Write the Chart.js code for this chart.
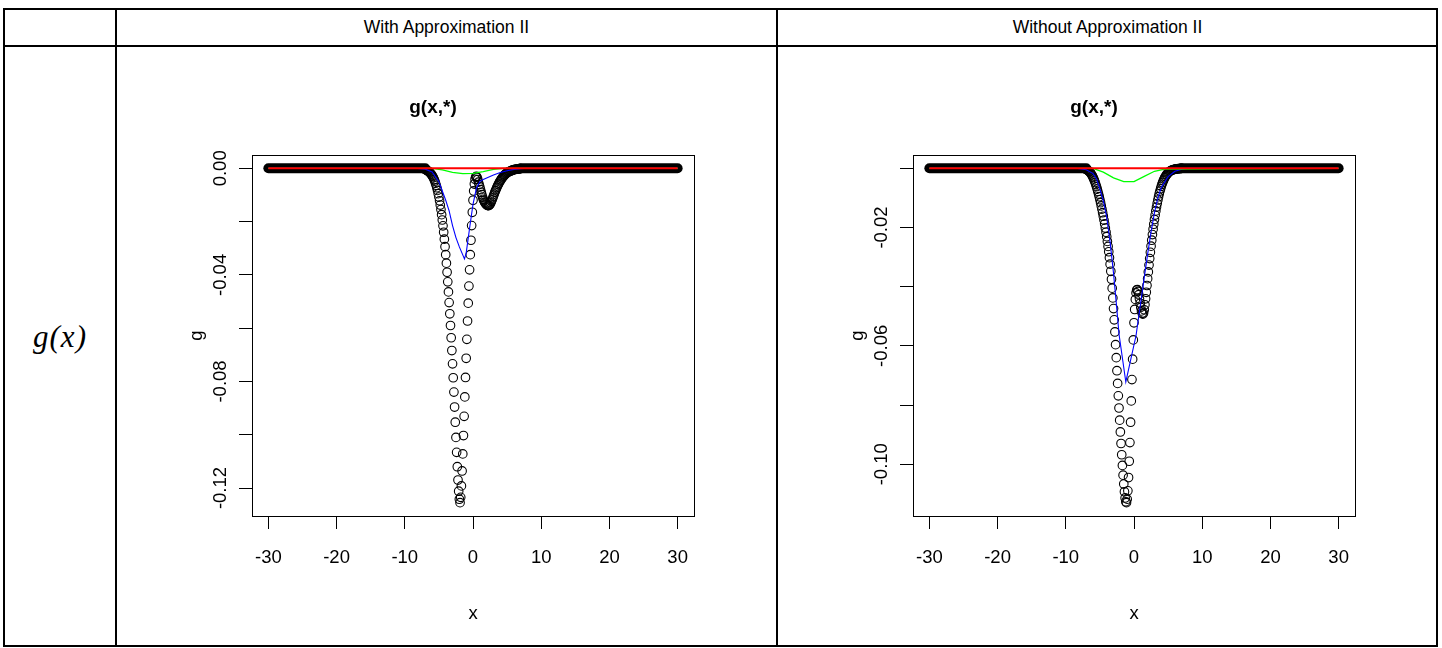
<!DOCTYPE html>
<html lang="en">
<head>
  <meta charset="UTF-8">
  <title>g(x,*) with and without Approximation II</title>
  <script src="https://cdn.jsdelivr.net/npm/chart.js"></script>
  <style>
    body { margin: 0; background: #fff; font-family: "Liberation Sans", Arial, sans-serif; color: #000; }
    #page { position: relative; width: 1442px; height: 648px; }
    .frame { position: absolute; left: 3px; top: 8px; width: 1435px; height: 639px; border: 2px solid #000; box-sizing: border-box; }
    .vline { position: absolute; top: 8px; height: 639px; width: 2px; background: #000; }
    .hline { position: absolute; left: 3px; top: 45px; width: 1435px; height: 2px; background: #000; }
    .head { position: absolute; top: 10px; height: 35px; line-height: 35px; font-size: 17.5px; text-align: center; }
    .gx { position: absolute; left: 5px; top: 315px; width: 110px; height: 44px; line-height: 44px; text-align: center;
          font-family: "Liberation Serif", "Times New Roman", serif; font-style: italic; font-size: 31px; letter-spacing: 1px; }
    canvas { position: absolute; top: 50px; }
  </style>
</head>
<body>
<div id="page">
  <div class="frame"></div>
  <div class="hline"></div>
  <div class="vline" style="left:115px"></div>
  <div class="vline" style="left:776px"></div>
  <div class="head" style="left:117px; width:659px">With Approximation II</div>
  <div class="head" style="left:778px; width:659px">Without Approximation II</div>
  <div class="gx">g(x)</div>
  <canvas id="withChart" width="652" height="594" style="left:120px"></canvas>
  <canvas id="withoutChart" width="652" height="594" style="left:781px"></canvas>
</div>

<script>
  // x grid of the circle series (the flat part outside it is the zero tail)
  const xCore = [
    -7, -6.9, -6.8, -6.7, -6.6, -6.5, -6.4, -6.3, -6.2, -6.1,
    -6, -5.9, -5.8, -5.7, -5.6, -5.5, -5.4, -5.3, -5.2, -5.1,
    -5, -4.9, -4.8, -4.7, -4.6, -4.5, -4.4, -4.3, -4.2, -4.1,
    -4, -3.9, -3.8, -3.7, -3.6, -3.5, -3.4, -3.3, -3.2, -3.1,
    -3, -2.9, -2.8, -2.7, -2.6, -2.5, -2.4, -2.3, -2.2, -2.1,
    -2, -1.9, -1.8, -1.7, -1.6, -1.5, -1.4, -1.3, -1.2, -1.1,
    -1, -0.9, -0.8, -0.7, -0.6, -0.5, -0.4, -0.3, -0.2, -0.1,
    0, 0.1, 0.2, 0.3, 0.4, 0.5, 0.6, 0.7, 0.8, 0.9,
    1, 1.1, 1.2, 1.3, 1.4, 1.5, 1.6, 1.7, 1.8, 1.9,
    2, 2.1, 2.2, 2.3, 2.4, 2.5, 2.6, 2.7, 2.8, 2.9,
    3, 3.1, 3.2, 3.3, 3.4, 3.5, 3.6, 3.7, 3.8, 3.9,
    4, 4.1, 4.2, 4.3, 4.4, 4.5, 4.6, 4.7, 4.8, 4.9,
    5, 5.1, 5.2, 5.3, 5.4, 5.5, 5.6, 5.7, 5.8, 5.9,
    6, 6.1, 6.2, 6.3, 6.4, 6.5, 6.6, 6.7, 6.8, 6.9,
    7
  ];

  // g(x,*) circles, with Approximation II
  const gWith = [
    -0.0005, -0.0006, -0.0007, -0.0008, -0.0010, -0.0012, -0.0014, -0.0017, -0.0020, -0.0023,
    -0.0027, -0.0031, -0.0036, -0.0042, -0.0048, -0.0056, -0.0064, -0.0073, -0.0083, -0.0095,
    -0.0108, -0.0122, -0.0138, -0.0155, -0.0174, -0.0194, -0.0216, -0.0240, -0.0266, -0.0294,
    -0.0324, -0.0356, -0.0390, -0.0426, -0.0464, -0.0504, -0.0546, -0.0590, -0.0636, -0.0684,
    -0.0734, -0.0786, -0.0840, -0.0896, -0.0953, -0.1010, -0.1066, -0.1120, -0.1170, -0.1212,
    -0.1242, -0.1255, -0.1235, -0.1192, -0.1136, -0.1072, -0.1003, -0.0931, -0.0858, -0.0785,
    -0.0713, -0.0642, -0.0573, -0.0506, -0.0442, -0.0381, -0.0324, -0.0270, -0.0215, -0.0165,
    -0.0120, -0.0085, -0.0059, -0.0041, -0.0032, -0.0030, -0.0034, -0.0042, -0.0052, -0.0061,
    -0.0070, -0.0080, -0.0090, -0.0099, -0.0108, -0.0116, -0.0122, -0.0127, -0.0131, -0.0134,
    -0.0137, -0.0139, -0.0140, -0.0140, -0.0138, -0.0135, -0.0130, -0.0124, -0.0118, -0.0111,
    -0.0104, -0.0097, -0.0090, -0.0084, -0.0078, -0.0072, -0.0066, -0.0061, -0.0056, -0.0051,
    -0.0047, -0.0043, -0.0039, -0.0035, -0.0032, -0.0029, -0.0026, -0.0023, -0.0021, -0.0019,
    -0.0017, -0.0015, -0.0013, -0.0012, -0.0011, -0.0010, -0.0009, -0.0008, -0.0007, -0.0006,
    -0.0005, -0.0005, -0.0004, -0.0004, -0.0003, -0.0003, -0.0002, -0.0002, -0.0002, -0.0001,
    -0.0001
  ];

  // g(x,*) circles, without Approximation II
  const gWithout = [
    -0.0004, -0.0005, -0.0006, -0.0008, -0.0010, -0.0012, -0.0015, -0.0018, -0.0022, -0.0026,
    -0.0031, -0.0036, -0.0042, -0.0048, -0.0055, -0.0062, -0.0070, -0.0078, -0.0087, -0.0096,
    -0.0106, -0.0116, -0.0127, -0.0138, -0.0150, -0.0162, -0.0175, -0.0188, -0.0202, -0.0216,
    -0.0231, -0.0247, -0.0264, -0.0282, -0.0302, -0.0324, -0.0348, -0.0375, -0.0405, -0.0438,
    -0.0474, -0.0512, -0.0553, -0.0596, -0.0640, -0.0684, -0.0727, -0.0769, -0.0810, -0.0851,
    -0.0891, -0.0930, -0.0968, -0.1004, -0.1037, -0.1067, -0.1093, -0.1114, -0.1127, -0.1130,
    -0.1118, -0.1090, -0.1045, -0.0990, -0.0927, -0.0858, -0.0786, -0.0714, -0.0645, -0.0580,
    -0.0522, -0.0477, -0.0443, -0.0421, -0.0411, -0.0410, -0.0416, -0.0427, -0.0441, -0.0456,
    -0.0470, -0.0482, -0.0490, -0.0493, -0.0489, -0.0478, -0.0461, -0.0441, -0.0419, -0.0396,
    -0.0373, -0.0350, -0.0327, -0.0305, -0.0284, -0.0263, -0.0243, -0.0224, -0.0206, -0.0189,
    -0.0173, -0.0158, -0.0144, -0.0131, -0.0119, -0.0107, -0.0096, -0.0086, -0.0077, -0.0069,
    -0.0061, -0.0054, -0.0048, -0.0042, -0.0037, -0.0032, -0.0028, -0.0024, -0.0021, -0.0018,
    -0.0015, -0.0013, -0.0011, -0.0009, -0.0008, -0.0007, -0.0006, -0.0005, -0.0004, -0.0004,
    -0.0003, -0.0003, -0.0002, -0.0002, -0.0002, -0.0001, -0.0001, -0.0001, -0.0001, 0,
    0
  ];

  // flat zero tails of the circle series (drawn as the solid band)
  const tailLeftX = [-30, -7];
  const tailRightX = [7, 30];
  const tailG = [0, 0];

  // blue curve
  const blueXWith = [-30, -8.5, -7, -6, -5, -4.5, -4, -3.5, -3, -2.5, -2, -1.5, -1.25, -1, -0.5, 0, 0.5, 1, 1.5, 2, 3, 4, 5, 6, 7, 8, 30];
  const blueWith = [0, 0, -0.0003, -0.0014, -0.0050, -0.0085, -0.0120, -0.0160, -0.0215, -0.0260, -0.0295, -0.0325, -0.0340, -0.0318,
                    -0.0225, -0.0135, -0.0075, -0.0050, -0.0042, -0.0036, -0.0025, -0.0016, -0.0009, -0.0004, -0.0001, 0, 0];
  const blueXWithout = [-30, -8.5, -7, -6, -5.5, -5, -4.5, -4, -3.5, -3, -2.5, -2.2, -1.2, 0.3, 1, 1.5, 2, 2.5, 3, 3.5, 4, 5, 6, 7, 8, 30];
  const blueWithout = [0, 0, -0.0005, -0.0018, -0.0035, -0.0070, -0.0110, -0.0165, -0.0250, -0.0355, -0.0480, -0.0560, -0.0722,
                       -0.0565, -0.0450, -0.0370, -0.0290, -0.0215, -0.0150, -0.0100, -0.0065, -0.0028, -0.0010, -0.0003, 0, 0];

  // green curve
  const greenX = [-30, -6, -4.5, -3, -1.5, 0, 1.5, 3, 4.5, 30];
  const greenWith = [0, 0, -0.0006, -0.0015, -0.0020, -0.0019, -0.0012, -0.0004, 0, 0];
  const greenWithout = [0, 0, -0.0013, -0.0032, -0.0045, -0.0045, -0.0027, -0.0010, -0.0003, 0];

  // red curve
  const redX = [-30, 30];
  const redG = [0, 0];

  // axes
  const xTicks = [-30, -20, -10, 0, 10, 20, 30];
  const xRange = [-32.4, 32.4];
  const yTicksWith = [-0.12, -0.10, -0.08, -0.06, -0.04, -0.02, 0];
  const yLabelsWith = ['-0.12', '', '-0.08', '', '-0.04', '', '0.00'];
  const yRangeWith = [-0.1305, 0.0050];
  const yTicksWithout = [-0.10, -0.08, -0.06, -0.04, -0.02, 0];
  const yLabelsWithout = ['-0.10', '', '-0.06', '', '-0.02', ''];
  const yRangeWithout = [-0.1175, 0.0045];

  const FONT = 'Liberation Sans, Arial, sans-serif';

  function pairs(xs, ys) {
    return xs.map((x, i) => ({ x: x, y: ys[i] }));
  }

  // R style box round the plot region
  const boxPlugin = {
    id: 'box',
    afterDraw(chart) {
      const { ctx, chartArea: a } = chart;
      ctx.save();
      ctx.strokeStyle = '#000';
      ctx.lineWidth = 1;
      ctx.strokeRect(Math.round(a.left) + 0.5, Math.round(a.top) + 0.5,
                     Math.round(a.right - a.left), Math.round(a.bottom - a.top));
      ctx.restore();
    }
  };

  function lineSet(label, data, color, width, order) {
    return { label, data, showLine: true, borderColor: color, borderWidth: width,
             pointRadius: 0, pointHoverRadius: 0, fill: false, order };
  }

  function createPlot(id, g, blueX, blue, green, yTicks, yLabels, yRange) {
    const ctx = document.getElementById(id).getContext('2d');
    new Chart(ctx, {
      type: 'scatter',
      data: {
        datasets: [
          lineSet('red', pairs(redX, redG), '#ff0000', 2, 0),
          lineSet('green', pairs(greenX, green), '#00ff00', 1.3, 1),
          lineSet('blue', pairs(blueX, blue), '#0000ff', 1.1, 2),
          {
            label: 'g',
            data: pairs(xCore, g),
            showLine: false,
            pointStyle: 'circle',
            pointRadius: 4.3,
            pointBorderWidth: 1.1,
            pointBorderColor: '#000',
            pointBackgroundColor: 'rgba(0,0,0,0)',
            order: 3
          },
          Object.assign(lineSet('g tail left', pairs(tailLeftX, tailG), '#000', 10, 4), { borderCapStyle: 'round' }),
          Object.assign(lineSet('g tail right', pairs(tailRightX, tailG), '#000', 10, 4), { borderCapStyle: 'round' })
        ]
      },
      options: {
        responsive: false,
        animation: false,
        devicePixelRatio: 1,
        layout: { padding: { left: 52, right: 78, top: 0, bottom: 10 } },
        plugins: {
          legend: { display: false },
          tooltip: { enabled: false },
          title: {
            display: true,
            text: 'g(x,*)',
            color: '#000',
            font: { family: FONT, size: 19, weight: 'bold' },
            padding: { top: 46.6, bottom: 35.6 }
          }
        },
        scales: {
          x: {
            type: 'linear',
            position: 'bottom',
            min: xRange[0],
            max: xRange[1],
            afterBuildTicks: s => { s.ticks = xTicks.map(v => ({ value: v })); },
            afterFit: s => { s.height = 118; },
            grid: { drawOnChartArea: false, drawTicks: true, tickLength: 13, color: '#000', lineWidth: 1 },
            border: { display: true, color: '#000', width: 1 },
            ticks: { color: '#000', font: { family: FONT, size: 18.5 }, padding: 17.9, maxRotation: 0, autoSkip: false },
            title: { display: true, text: 'x', color: '#000', font: { family: FONT, size: 18.5 }, padding: { top: 0, bottom: 8.9 } }
          },
          y: {
            type: 'linear',
            position: 'left',
            min: yRange[0],
            max: yRange[1],
            afterBuildTicks: s => { s.ticks = yTicks.map(v => ({ value: v })); },
            afterFit: s => { s.width = 80; },
            grid: { drawOnChartArea: false, drawTicks: true, tickLength: 13, color: '#000', lineWidth: 1 },
            border: { display: true, color: '#000', width: 1 },
            ticks: {
              color: '#000',
              font: { family: FONT, size: 18.5 },
              minRotation: 90,
              maxRotation: 90,
              crossAlign: 'center',
              padding: -3,
              autoSkip: false,
              callback: (v, i) => yLabels[i]
            },
            title: { display: true, text: 'g', color: '#000', font: { family: FONT, size: 18.5 }, padding: { top: 13.9, bottom: 0 } }
          }
        }
      },
      plugins: [boxPlugin]
    });
  }

  createPlot('withChart', gWith, blueXWith, blueWith, greenWith, yTicksWith, yLabelsWith, yRangeWith);
  createPlot('withoutChart', gWithout, blueXWithout, blueWithout, greenWithout, yTicksWithout, yLabelsWithout, yRangeWithout);
</script>
</body>
</html>
